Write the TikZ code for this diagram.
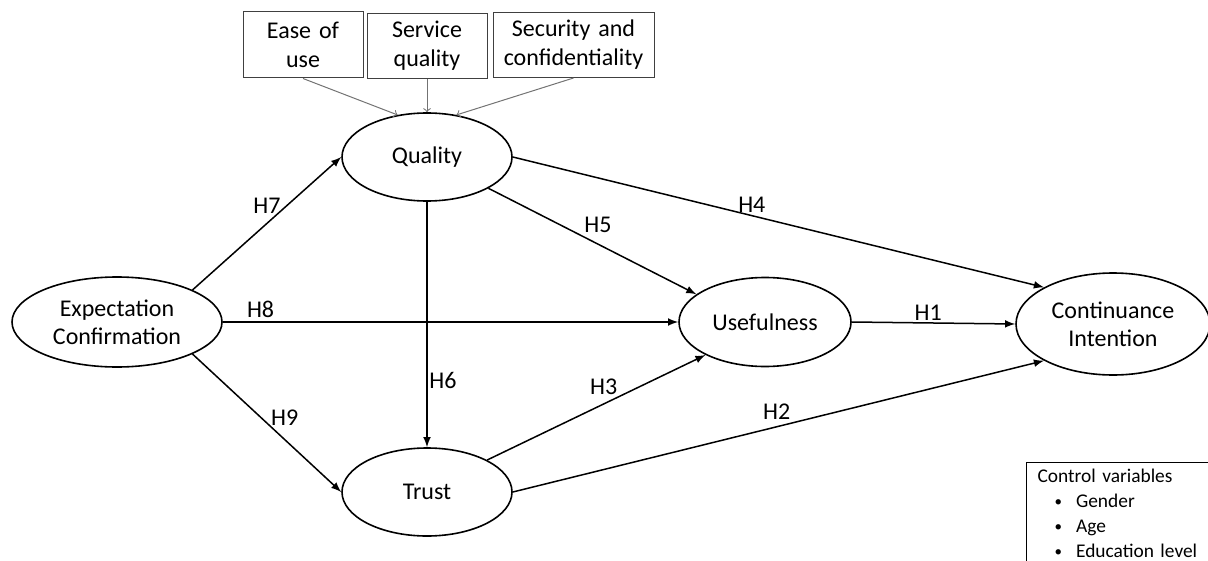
\documentclass[tikz,border=0pt]{standalone}
\usepackage{fontspec}
\setmainfont{Carlito}
\usetikzlibrary{shapes,arrows,positioning}
\usepackage{xcolor}
\definecolor{boxgray}{RGB}{64,64,64}
\definecolor{feedgray}{RGB}{115,115,115}
\newcommand{\ctrlitem}[1]{\hspace*{8.5pt}\raisebox{0.4pt}{\fontsize{7.5}{7.5}\selectfont\textbullet}\hspace*{7pt}#1}

\begin{document}
\begin{tikzpicture}[node distance=155pt,
    latent/.style={ellipse, draw, line width=0.8pt, inner sep=0pt, minimum width=85pt, minimum height=44pt, align=center, font=\fontsize{12}{14}\selectfont},
    factor/.style={rectangle, draw=boxgray, line width=0.5pt, text width=60pt, text centered, inner sep=0pt, minimum height=32.5pt, font=\fontsize{12}{14.5}\selectfont},
    ctrl/.style={rectangle, draw, line width=0.6pt, text width=100pt, align=left, inner xsep=5.5pt, inner ysep=3pt, font=\fontsize{9.7}{12.5}\selectfont},
    hpath/.style={-latex, line width=0.75pt},
    feed/.style={->, draw=feedgray, line width=0.5pt},
    hyp/.style={inner sep=0pt, font=\fontsize{12}{14}\selectfont}]

    \useasboundingbox (0,0) rectangle (604pt,-280.5pt);

    % constructs
    \node[latent, minimum width=105pt, minimum height=45pt] (ec) at (58.5pt,-161pt) {Expectation\\Confirmation};
    \node[latent, right of=ec, yshift=82.5pt] (quality) {Quality};
    \node[latent, right of=ec, yshift=-85pt] (trust) {Trust};
    \node[latent, right of=quality, xshift=14pt, yshift=-82.5pt, minimum width=86pt, minimum height=44.5pt] (useful) {Usefulness};
    \node[latent, right of=useful, xshift=19pt, yshift=-1pt, minimum width=97pt, minimum height=51pt] (ci) {Continuance\\Intention};

    % quality factors
    \node[factor, above of=quality, node distance=55.5pt] (service) {Service\\quality};
    \node[factor, left of=service, node distance=62pt, yshift=0.5pt, minimum height=33pt] (ease) {Ease of\\use};
    \node[factor, right of=service, node distance=73.25pt, yshift=0.5pt, text width=80.5pt] (security) {Security and\\confidentiality};

    \draw[feed] (ease.south) -- (quality.125);
    \draw[feed] (service.south) -- (quality.north);
    \draw[feed] (security.south) -- (quality.55);

    % hypotheses
    \draw[hpath] (ec.23) -- node[hyp, pos=0.5, yshift=9pt] (h7) {H7} (quality.west);
    \draw[hpath] (ec.east) -- node[hyp, pos=0.083, yshift=6.25pt] (h8) {H8} (useful.west);
    \draw[hpath] (ec.-23) -- node[hyp, pos=0.62, yshift=10.8pt] (h9) {H9} (trust.west);
    \draw[hpath] (quality.south) -- node[hyp, pos=0.73, xshift=8pt] (h6) {H6} (trust.north);
    \draw[hpath] (quality.-27) -- node[hyp, pos=0.527, yshift=9.5pt] (h5) {H5} (useful.158);
    \draw[hpath] (quality.east) -- node[hyp, pos=0.45, yshift=5.5pt] (h4) {H4} (ci.152);
    \draw[hpath] (trust.28) -- node[hyp, pos=0.534, yshift=8.8pt] (h3) {H3} (useful.209);
    \draw[hpath] (trust.east) -- node[hyp, pos=0.497, yshift=7.75pt] (h2) {H2} (ci.208);
    \draw[hpath] (useful.east) -- node[hyp, pos=0.467, yshift=5pt] (h1) {H1} (ci.west);

    % controls
    \node[ctrl, anchor=north west] (controls) at (513pt,-231pt) {Control variables\\
        \ctrlitem{Gender}\\
        \ctrlitem{Age}\\
        \ctrlitem{Education level}\strut};
\end{tikzpicture}
\end{document}
